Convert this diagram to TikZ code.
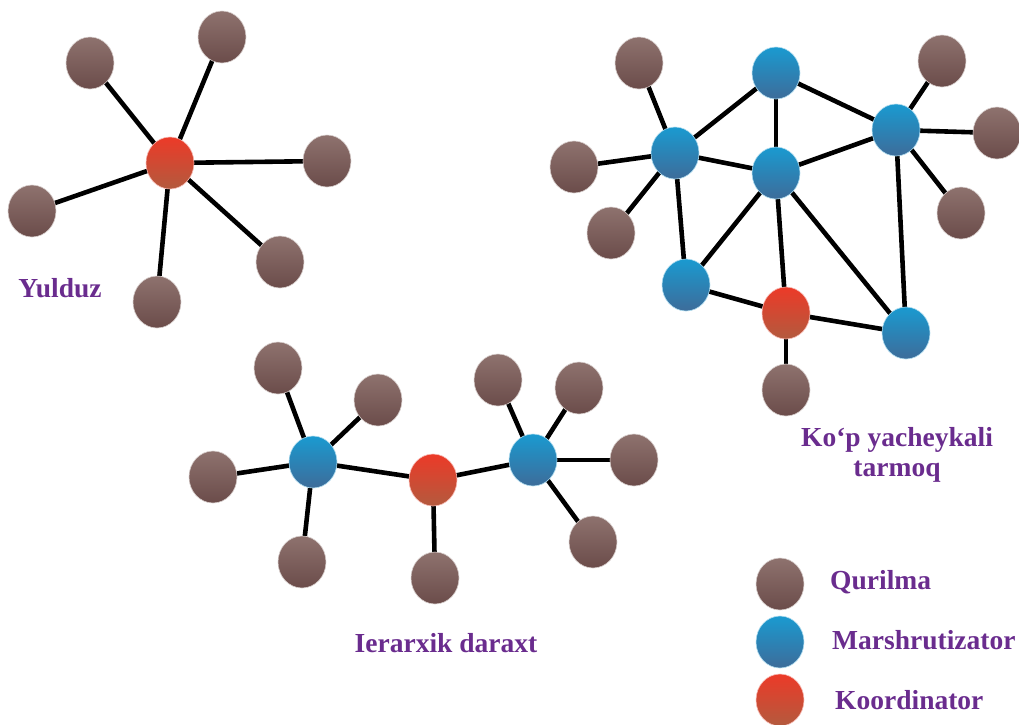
\documentclass[tikz,border=0pt]{standalone}
\usepackage{fontspec}
\setmainfont{Liberation Serif}
\usetikzlibrary{shapes.geometric}
\pgfdeclarelayer{bg}
\pgfdeclarelayer{edges}
\pgfsetlayers{bg,edges,main}
\definecolor{brTop}{HTML}{8E726E}
\definecolor{brBot}{HTML}{6B4C4A}
\definecolor{blTop}{HTML}{1A9AD0}
\definecolor{blBot}{HTML}{3D6C9A}
\definecolor{rdTop}{HTML}{EC3A28}
\definecolor{rdBot}{HTML}{B35A3E}
\definecolor{lblc}{HTML}{6A2C8E}
\tikzset{
  dev/.style={ellipse, minimum width=48pt, minimum height=52pt, inner sep=0pt,
    top color=brTop, bottom color=brBot, draw=brTop!35!white, line width=0.6pt},
  rtr/.style={dev, top color=blTop, bottom color=blBot, draw=blTop!35!white},
  crd/.style={dev, top color=rdTop, bottom color=rdBot, draw=rdTop!35!white},
  link/.style={line width=4.6pt, black},
  lbl/.style={text=lblc, font=\fontsize{27.5}{30}\selectfont\bfseries, inner sep=0pt}
}
\begin{document}
\begin{tikzpicture}[x=1pt, y=-1pt]
\begin{pgfonlayer}{bg}
\fill[white] (0,0) rectangle (1019,724);
\end{pgfonlayer}
\useasboundingbox (0,0) rectangle (1019,724);

% ---- Star ----
\node[crd] (sc) at (170,163) {};
\node[dev] (s1) at (90,63) {};
\node[dev] (s2) at (222,37) {};
\node[dev] (s3) at (327,161) {};
\node[dev] (s4) at (32,211) {};
\node[dev] (s5) at (280,262) {};
\node[dev] (s6) at (157,302) {};
\node[lbl] (ls) at (60,288) {Yulduz};

% ---- Mesh ----
\node[dev] (m1) at (639,63) {};
\node[rtr] (mt) at (776,73) {};
\node[dev] (m2) at (942,61) {};
\node[rtr] (ml) at (675,153) {};
\node[rtr] (mc) at (776,173) {};
\node[rtr] (mr) at (896,130) {};
\node[dev] (m3) at (997,133) {};
\node[dev] (m4) at (574,167) {};
\node[dev] (m5) at (611,233) {};
\node[dev] (m6) at (961,213) {};
\node[rtr] (mll) at (686,285) {};
\node[crd] (mk) at (786,313) {};
\node[rtr] (mlr) at (906,333) {};
\node[dev] (m7) at (786,390) {};
\node[lbl, align=center] (lm) at (897,455) {Ko‘p yacheykali\\tarmoq};

% ---- Tree ----
\node[rtr] (tl) at (313,462) {};
\node[dev] (t1) at (278,368) {};
\node[dev] (t2) at (378,400) {};
\node[dev] (t3) at (213,477) {};
\node[dev] (t4) at (302,562) {};
\node[crd] (tk) at (433,480) {};
\node[dev] (t5) at (435,578) {};
\node[rtr] (tr) at (533,460) {};
\node[dev] (t6) at (498,380) {};
\node[dev] (t7) at (579,388) {};
\node[dev] (t8) at (634,460) {};
\node[dev] (t9) at (593,542) {};
\node[lbl] (lt) at (446,643) {Ierarxik daraxt};

% ---- Legend ----
\node[dev] (g1) at (780,584) {};
\node[rtr] (g2) at (780,642) {};
\node[crd] (g3) at (780,700) {};
\node[lbl, anchor=west] (lg1) at (830,582) {Qurilma};
\node[lbl, anchor=west] (lg2) at (832,640) {Marshrutizator};
\node[lbl, anchor=west] (lg3) at (835,700) {Koordinator};

% ---- Edges ----
\begin{pgfonlayer}{edges}
\foreach \n in {s1,s2,s3,s4,s5,s6} \draw[link] (sc.center) -- (\n.center);
\foreach \a/\b in {m1/ml, m4/ml, m5/ml, ml/mt, ml/mc, ml/mll, mt/mc, mt/mr,
  mc/mr, mr/m2, mr/m3, mr/m6, mr/mlr, mc/mll, mc/mk, mc/mlr, mll/mk, mk/mlr, mk/m7}
  \draw[link] (\a.center) -- (\b.center);
\foreach \a/\b in {tl/t1, tl/t2, tl/t3, tl/t4, tl/tk, tk/t5, tk/tr, tr/t6, tr/t7, tr/t8, tr/t9}
  \draw[link] (\a.center) -- (\b.center);
\end{pgfonlayer}
\end{tikzpicture}
\end{document}
